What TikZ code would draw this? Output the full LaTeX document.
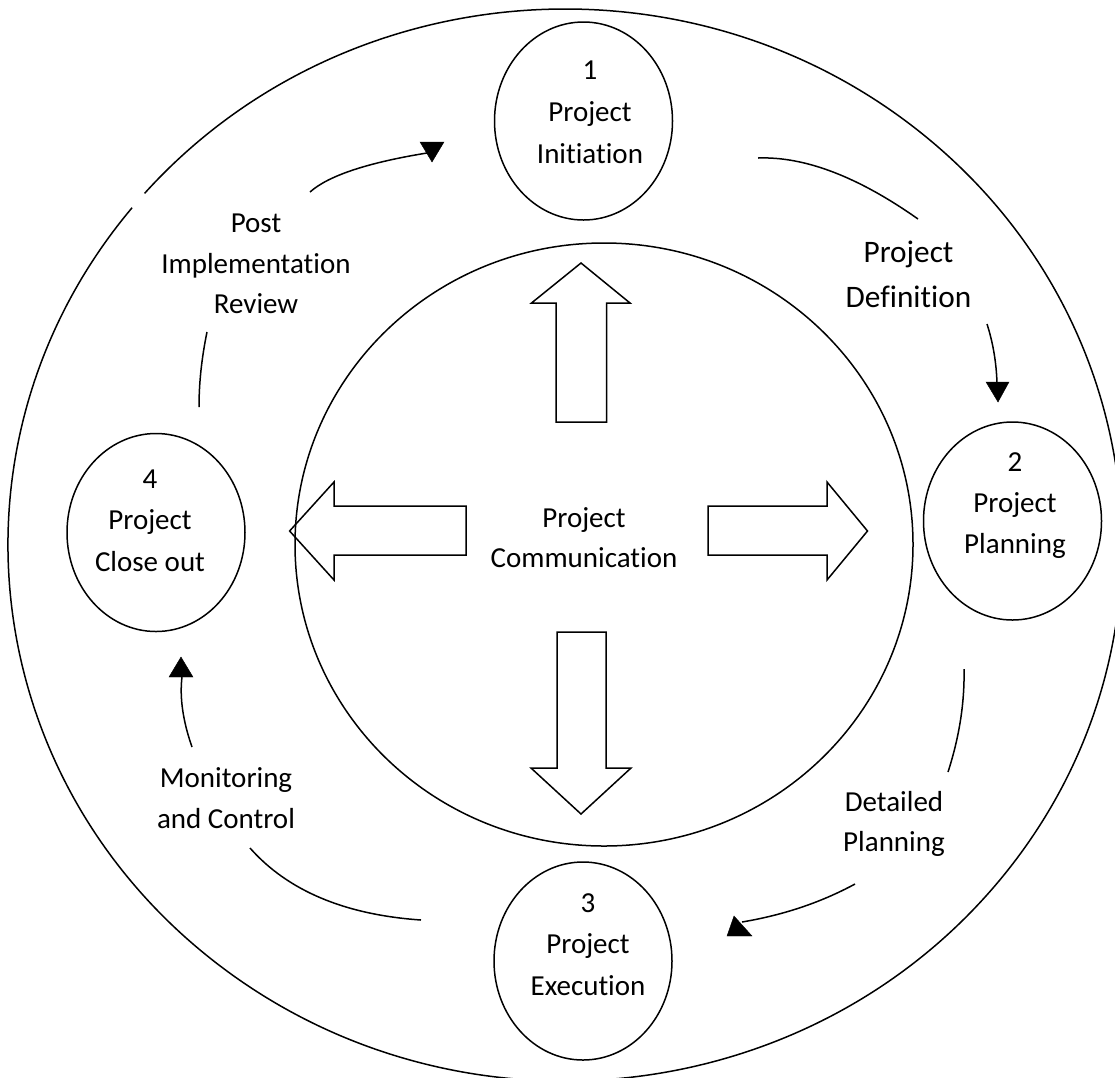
\documentclass[tikz,border=0pt]{standalone}
\usepackage{fontspec}
\setmainfont{Carlito}[RawFeature={-liga}]
\usetikzlibrary{shapes.geometric}
\newcommand\fl{\rule{0pt}{29pt}}
\tikzset{
  ln/.style={line width=1.5pt, black},
  phase/.style={ellipse, draw, line width=1.5pt, minimum width=178pt, minimum height=198pt, inner sep=0pt},
  lbl/.style={align=center, inner sep=0pt, anchor=north},
  tip/.style={fill=black, draw=black, line width=0.4pt},
}
\begin{document}
\begin{tikzpicture}[x=1pt, y=-1pt]
\useasboundingbox (0,0) rectangle (1115,1077);
% outer ring with small gap
\draw[ln] (132.1,207.7) arc[start angle=141, end angle=499, x radius=557pt, y radius=536pt];
% inner circle
\node[ellipse, draw, line width=1.5pt, minimum width=618pt, minimum height=603pt, inner sep=0pt] (inner) at (604,544.5) {};
% phases
\node[phase] (n1) at (583.5,121) {};
\node[phase] (n2) at (1012.5,521) {};
\node[phase] (n3) at (583,961) {};
\node[phase] (n4) at (156,532.5) {};
% phase texts
\node[lbl, font=\fontsize{29}{42}\selectfont] (t1) at (590,50) {\fl 1\\Project\\Initiation};
\node[lbl, font=\fontsize{29}{41}\selectfont] (t2) at (1015,442) {\fl 2\\Project\\Planning};
\node[lbl, font=\fontsize{29}{41.5}\selectfont] (t3) at (588,883) {\fl 3\\Project\\Execution};
\node[lbl, font=\fontsize{29}{41.5}\selectfont] (t4) at (150,459) {\fl 4\\Project\\Close out};
% transition labels
\node[lbl, font=\fontsize{29}{40.8}\selectfont] (post) at (256,203) {\fl Post\\Implementation\\Review};
\node[lbl, font=\fontsize{31.3}{45}\selectfont] (def) at (908.5,233) {\fl Project\\Definition};
\node[lbl, font=\fontsize{29}{40}\selectfont] (det) at (894,782) {\fl Detailed\\Planning};
\node[lbl, font=\fontsize{29}{41}\selectfont] (mon) at (226,758) {\fl Monitoring\\and Control};
\node[lbl, font=\fontsize{29}{40}\selectfont] (comm) at (584,498) {\fl Project\\Communication};
% block arrows
\draw[ln, line join=miter] (556,422) -- (556,303) -- (531.5,303) -- (581,263) -- (630,303) -- (606.5,303) -- (606.5,422) -- cycle;
\draw[ln, line join=miter] (557,632) -- (606,632) -- (606,768) -- (631,768) -- (581,814) -- (531,768) -- (557,768) -- cycle;
\draw[ln, line join=miter] (466,506) -- (334,506) -- (334,482) -- (289.6,531) -- (334,580) -- (334,555) -- (466,555) -- cycle;
\draw[ln, line join=miter] (708,506) -- (827,506) -- (827,482) -- (867.5,531) -- (827,580) -- (827,555) -- (708,555) -- cycle;
% cycle connectors
\coordinate (a1) at (310,192); \coordinate (a2) at (427,153);
\coordinate (b1) at (758,158); \coordinate (b2) at (918,219);
\coordinate (c1) at (987,324); \coordinate (c2) at (997,383);
\coordinate (d1) at (964,669); \coordinate (d2) at (948,772);
\coordinate (e1) at (855,884); \coordinate (e2) at (742,922);
\coordinate (f1) at (421,920); \coordinate (f2) at (250,848);
\coordinate (g1) at (192,747); \coordinate (g2) at (182,677);
\coordinate (h1) at (199,407); \coordinate (h2) at (207,332);
\draw[ln] (a1) .. controls (328.3,175.7) and (367.3,162.7) .. (a2);
\draw[ln] (b1) .. controls (804.7,156.3) and (858,176.7) .. (b2);
\draw[ln] (c1) .. controls (993,342.7) and (996.3,362.3) .. (c2);
\draw[ln] (d1) .. controls (964.7,702.7) and (959.3,737) .. (d2);
\draw[ln] (e1) .. controls (819.3,903.3) and (781.7,915.3) .. (e2);
\draw[ln] (f1) .. controls (344.7,914.7) and (287.7,890.7) .. (f2);
\draw[ln] (g1) .. controls (182.9,721) and (179.5,697.3) .. (g2);
\draw[ln] (h1) .. controls (199,382.7) and (201.7,357.7) .. (h2);
% arrowheads
\fill[tip] (420,142) -- (444,142) -- (432,162) -- cycle;
\fill[tip] (986,382) -- (1009,382) -- (998,402) -- cycle;
\fill[tip] (734,916) -- (727,936) -- (752,936) -- cycle;
\fill[tip] (181,657) -- (169,677) -- (193,677) -- cycle;
\end{tikzpicture}
\end{document}
